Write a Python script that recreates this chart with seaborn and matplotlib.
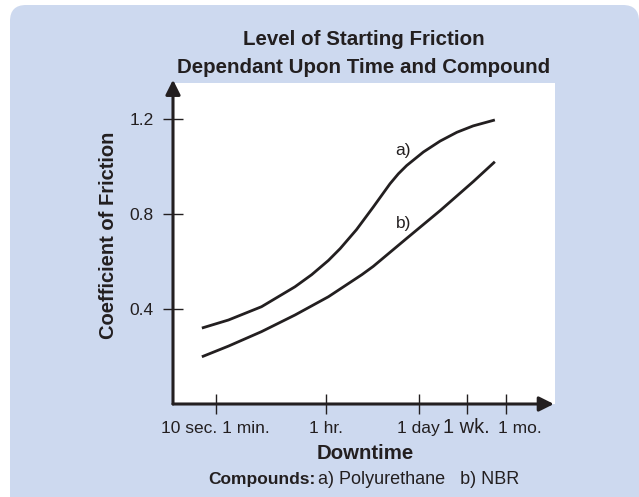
import numpy as np
import pandas as pd
import matplotlib
matplotlib.use("Agg")
import matplotlib.pyplot as plt
from matplotlib.patches import FancyBboxPatch
from matplotlib.transforms import ScaledTranslation
import seaborn as sns

# =====================================
#   Datos
# =====================================

# eje x en unidades de posicion (escala de tiempo no lineal)
tick_pos = [1.12, 4.02, 6.47, 7.73, 8.76]
tick_labels = ["10 sec. 1 min.", "1 hr.", "1 day", "1 wk.", "1 mo."]
y_ticks = [0.4, 0.8, 1.2]

pu_x = [0.76, 1.46, 2.33, 3.21, 3.65, 4.09, 4.40, 4.83, 5.27, 5.71, 5.93, 6.15, 6.59, 7.03, 7.47, 7.90, 8.47]
pu_y = [0.320, 0.354, 0.410, 0.494, 0.545, 0.605, 0.655, 0.735, 0.830, 0.928, 0.970, 1.005,
        1.062, 1.108, 1.145, 1.172, 1.197]

nbr_x = [0.76, 1.46, 2.33, 3.21, 4.09, 4.97, 5.27, 6.15, 7.03, 7.90, 8.47]
nbr_y = [0.199, 0.244, 0.305, 0.375, 0.452, 0.545, 0.580, 0.698, 0.815, 0.937, 1.021]

curve_names = ["a)", "b)"]
label_x = [6.06, 6.06]
label_y = [1.07, 0.761]

datos = pd.concat([
    pd.DataFrame({"x": pu_x, "y": pu_y, "compound": "a)"}),
    pd.DataFrame({"x": nbr_x, "y": nbr_y, "compound": "b)"}),
])

# =====================================
#   Grafica
# =====================================

sns.set_theme(style="white")
plt.rcParams["font.family"] = ["Liberation Sans", "DejaVu Sans"]

ink = "#231f20"
fondo = "#cdd9ef"

fig = plt.figure(figsize=(6.39, 4.97), dpi=100, facecolor="white")

# panel azul con esquinas redondeadas (en pixeles)
panel = FancyBboxPatch((10, -20), 629, 512, boxstyle="round,pad=0,rounding_size=16",
                       transform=None, facecolor=fondo, edgecolor="none", zorder=-10)
fig.add_artist(panel)

ax = fig.add_axes([173 / 639, 93 / 497, 382 / 639, 321 / 497])
ax.set_facecolor("white")

sns.lineplot(data=datos, x="x", y="y", hue="compound", palette=[ink, ink],
             linewidth=2.0, legend=False, ax=ax, sort=False,
             solid_joinstyle="round", solid_capstyle="butt")

for name, lx, ly in zip(curve_names, label_x, label_y):
    ax.text(lx, ly, name, fontsize=12.5, color=ink, ha="center", va="center")

ax.set_xlim(0, 382 / 38)
ax.set_ylim(0, 321 / 237.3)

for s in ax.spines.values():
    s.set_visible(False)

# ejes con flechas
flecha = dict(arrowstyle="-|>", color=ink, lw=2.2, mutation_scale=22, shrinkA=0, shrinkB=0)
ax.annotate("", xy=(0, 1.01), xytext=(0, 0), xycoords="axes fraction", arrowprops=flecha,
            annotation_clip=False)
ax.annotate("", xy=(0.997, 0), xytext=(0, 0), xycoords="axes fraction", arrowprops=flecha,
            annotation_clip=False)

ax.set_xticks(tick_pos, labels=tick_labels)
ax.set_yticks(y_ticks, labels=[f"{v:.1f}" for v in y_ticks])
ax.tick_params(axis="both", direction="inout", length=15, width=1.0, color=ink,
               labelcolor=ink, labelsize=12.5, bottom=True, left=True)
ax.tick_params(axis="x", pad=4.5)
ax.tick_params(axis="y", pad=6.5)

# "1 wk." mas grande y "1 mo." corrido a la derecha, como en el original
for lbl in ax.get_xticklabels():
    if lbl.get_text() == "1 wk.":
        lbl.set_fontsize(14.4)
        lbl.set_transform(lbl.get_transform() + ScaledTranslation(0, 0.03, fig.dpi_scale_trans))
    if lbl.get_text() == "1 mo.":
        lbl.set_transform(lbl.get_transform() + ScaledTranslation(0.14, 0, fig.dpi_scale_trans))

ax.set_xlabel("Downtime", fontsize=14.7, fontweight="bold", color=ink)
ax.xaxis.set_label_coords(0.503, -0.153)
ax.xaxis.label.set_verticalalignment("center")

ax.set_ylabel("Coefficient of Friction", fontsize=14.5, fontweight="bold", color=ink)
ax.yaxis.set_label_coords(-0.170, 0.526)
ax.yaxis.label.set_verticalalignment("center")

ax.set_title("Level of Starting Friction\nDependant Upon Time and Compound",
             fontsize=14.8, fontweight="bold", color=ink, linespacing=1.65, pad=7)

ax.text(0.372, -0.234, "Compounds:", transform=ax.transAxes, fontsize=12.5,
        fontweight="bold", color=ink, ha="right", va="center")
ax.text(0.380, -0.234, "a) Polyurethane   b) NBR", transform=ax.transAxes, fontsize=13,
        color=ink, ha="left", va="center")

fig.savefig("out.png", dpi=100)
